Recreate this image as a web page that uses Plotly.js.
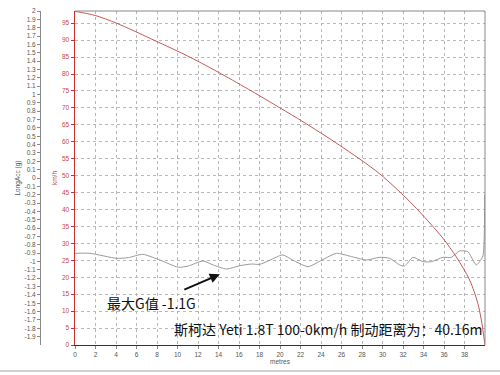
<!DOCTYPE html>
<html>
<head>
<meta charset="utf-8">
<script src="https://cdn.plot.ly/plotly-3.0.1.min.js"></script>
<style>html,body{margin:0;padding:0;background:#fff;}#chart{width:500px;height:375px;}</style>
</head>
<body>
<div id="chart"></div>
<script>
// distance (metres) and speed (km/h)
const speedDist = [0, 1.95, 4.06, 7.7, 11.2, 14.3, 17.2, 20.0, 22.25, 25.8, 29.7, 33.0, 35.9, 37.2, 38.5, 39.3, 39.64, 40.0];
const speedVals = [98.5, 97.3, 95, 90, 85, 80, 75, 70, 65.9, 59, 50.6, 41.3, 31.5, 26, 19.2, 12.3, 7.4, 0];

// distance (metres) and longitudinal acceleration (g)
const gDist = [0, 1.46, 4.06, 5.19, 6.6, 8.28, 10.07, 11.04, 12.5, 13.48, 14.79, 16.08, 17.22, 18.03, 19.98, 20.3, 21.5, 22.74, 24.1, 25.5, 27.0, 28.43, 29.73, 30.7, 31.68, 32.16, 32.97, 33.95, 34.77, 35.9, 36.7, 37.52, 38.33, 38.82, 39.15, 39.47, 39.8, 39.97];
const gVals = [-0.902, -0.902, -0.962, -0.954, -0.914, -0.982, -1.069, -1.054, -0.994, -1.042, -1.090, -1.050, -1.030, -1.034, -0.930, -0.922, -1.0, -1.062, -0.982, -0.902, -0.942, -0.982, -0.950, -0.962, -1.042, -1.054, -0.950, -1.002, -1.002, -0.950, -0.950, -0.874, -0.882, -0.982, -1.042, -1.002, -0.934, -0.20];

// tick labels
const xTicks = [0, 2, 4, 6, 8, 10, 12, 14, 16, 18, 20, 22, 24, 26, 28, 30, 32, 34, 36, 38];
const speedTicks = [0, 5, 10, 15, 20, 25, 30, 35, 40, 45, 50, 55, 60, 65, 70, 75, 80, 85, 90, 95];
const gTickLabels = ["2","1.9","1.8","1.7","1.6","1.5","1.4","1.3","1.2","1.1","1","0.9","0.8","0.7","0.6","0.5","0.4","0.3","0.2","0.1","0","-0.1","-0.2","-0.3","-0.4","-0.5","-0.6","-0.7","-0.8","-0.9","-1","-1.1","-1.2","-1.3","-1.4","-1.5","-1.6","-1.7","-1.8","-1.9"];
const gTickVals = gTickLabels.map(Number);

const caption = "斯柯达 Yeti 1.8T 100-0km/h 制动距离为：40.16m";
const maxGLabel = "最大G值 -1.1G";

const W = 485; // paper width in px (500 - right margin)
const tickFont = {family: "Liberation Sans, Arial, sans-serif", size: 6.5, color: "#555"};
const red = "#c9302c";

const traces = [
  {x: gDist, y: gVals, type: "scatter", mode: "lines", yaxis: "y", xaxis: "x",
   line: {color: "#9a9a9a", width: 1, shape: "spline", smoothing: 0.6}, hoverinfo: "skip"},
  {x: speedDist, y: speedVals, type: "scatter", mode: "lines", yaxis: "y2", xaxis: "x",
   line: {color: "#c45a58", width: 1, shape: "spline", smoothing: 0.8}, hoverinfo: "skip"}
];

const layout = {
  width: 500, height: 375,
  margin: {l: 0, r: 15, t: 11, b: 30, pad: 0},
  paper_bgcolor: "#ffffff", plot_bgcolor: "#ffffff",
  showlegend: false,
  xaxis: {
    domain: [75 / W, 1], range: [0, 40], tickvals: xTicks,
    showgrid: true, gridcolor: "#b8b8b8", griddash: "dot", gridwidth: 1,
    zeroline: false, showline: true, linecolor: "#333", linewidth: 1,
    ticks: "outside", ticklen: 3, tickcolor: "#888",
    tickfont: tickFont, automargin: false,
    title: {text: "metres", font: tickFont, standoff: 1}
  },
  yaxis: {
    range: [-2, 2], anchor: "free", position: 40 / W, side: "left",
    tickvals: gTickVals, ticktext: gTickLabels,
    showgrid: false, zeroline: false, showline: true, linecolor: "#888", linewidth: 1,
    ticks: "outside", ticklen: 3, tickcolor: "#888",
    tickfont: tickFont, automargin: false,
    title: {text: "LongAcc (g)", font: tickFont, standoff: 2}
  },
  yaxis2: {
    range: [0, 98.6], overlaying: "y", anchor: "x", side: "left",
    tickvals: speedTicks,
    showgrid: true, gridcolor: "#b8b8b8", griddash: "dot", gridwidth: 1,
    zeroline: false, showline: true, linecolor: red, linewidth: 1.5,
    ticks: "outside", ticklen: 3, tickcolor: red,
    tickfont: {family: tickFont.family, size: 6.5, color: "#c04848"}, automargin: false,
    title: {text: "km/h", font: {family: tickFont.family, size: 6.5, color: "#c04848"}, standoff: 3}
  },
  shapes: [
    {type: "line", xref: "paper", yref: "paper", x0: 75 / W, x1: 1, y0: 1, y1: 1, line: {color: "#888", width: 1}},
    {type: "line", xref: "paper", yref: "paper", x0: 1, x1: 1, y0: 0, y1: 1, line: {color: "#888", width: 1}},
    {type: "line", xref: "paper", yref: "paper", x0: 0, x1: 500 / W, y0: -26 / 334, y1: -26 / 334, line: {color: "#d0d0d0", width: 2}}
  ],
  annotations: [
    {xref: "x", yref: "y", x: 14.13, y: -1.153, ax: -37, ay: 16, text: "", showarrow: true,
     arrowhead: 2, arrowsize: 1, arrowwidth: 2, arrowcolor: "#111"},
    {xref: "x", yref: "y", x: 7.5, y: -1.497, text: maxGLabel, showarrow: false,
     font: {family: "Noto Sans CJK SC, sans-serif", size: 14, color: "#111"}},
    {xref: "paper", yref: "paper", x: 484 / W, y: 16 / 334, xanchor: "right", yanchor: "middle",
     text: caption, showarrow: false,
     font: {family: "Noto Sans CJK SC, sans-serif", size: 14, color: "#111"}}
  ]
};

Plotly.newPlot("chart", traces, layout, {staticPlot: true, displayModeBar: false});
</script>
</body>
</html>
